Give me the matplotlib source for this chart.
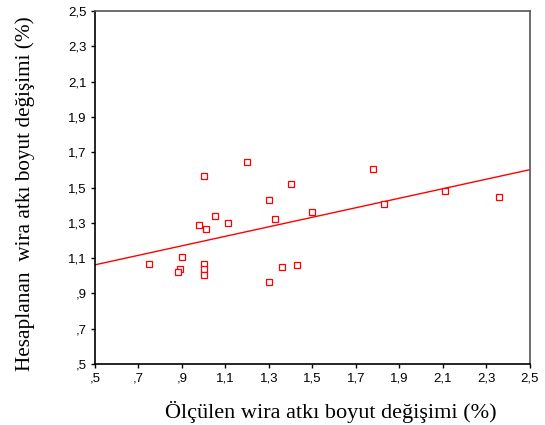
import matplotlib
matplotlib.use("Agg")
import matplotlib.pyplot as plt
import numpy as np

measured = [1.20, 1.00, 1.40, 1.30, 1.50, 1.05, 1.33, 1.11, 0.98, 1.01,
            0.90, 0.75, 1.00, 0.89, 1.00, 0.88, 1.00, 1.36, 1.43, 1.30,
            1.78, 1.83, 2.11, 2.36]
predicted = [1.643, 1.563, 1.521, 1.428, 1.361, 1.340, 1.321, 1.300, 1.289, 1.266,
             1.106, 1.066, 1.066, 1.041, 1.039, 1.020, 1.007, 1.049, 1.060, 0.967,
             1.603, 1.407, 1.481, 1.449]
fit_x = [0.5, 2.5]
fit_y = [1.062, 1.601]
ticks = [0.5, 0.7, 0.9, 1.1, 1.3, 1.5, 1.7, 1.9, 2.1, 2.3, 2.5]
tick_labels = [",5", ",7", ",9", "1,1", "1,3", "1,5", "1,7", "1,9", "2,1", "2,3", "2,5"]

fig = plt.figure(figsize=(5.45, 4.25), dpi=100)
ax = fig.add_axes([0.1743, 0.1435, 0.7977, 0.8305])

ax.plot(fit_x, fit_y, color="#ff0000", lw=1.0, zorder=2)
ax.plot(measured, predicted, linestyle="none", marker="s", markersize=4.2,
        markerfacecolor="white", markeredgecolor="#ff0000", markeredgewidth=0.9, zorder=3)

ax.set_xlim(0.5, 2.5)
ax.set_ylim(0.5, 2.5)
ax.set_xticks(ticks)
ax.set_xticklabels(tick_labels)
ax.set_yticks(ticks)
ax.set_yticklabels(tick_labels)
for lab in ax.get_xticklabels() + ax.get_yticklabels():
    lab.set_fontfamily("Liberation Sans")
    lab.set_fontsize(9.5)
ax.tick_params(direction="out", length=3, width=1, color="black", pad=3)
ax.tick_params(top=False, right=False)

for side in ["left", "bottom"]:
    ax.spines[side].set_color("black")
    ax.spines[side].set_linewidth(1.2)
for side in ["top", "right"]:
    ax.spines[side].set_color("#555555")
    ax.spines[side].set_linewidth(1.2)

ax.set_xlabel("Ölçülen wira atkı boyut değişimi (%)", fontfamily="Liberation Serif",
              fontsize=16, labelpad=12)
ax.xaxis.set_label_coords(0.543, -0.105)
ax.set_ylabel("Hesaplanan  wira atkı boyut değişimi (%)", fontfamily="Liberation Serif",
              fontsize=15.3)
ax.yaxis.set_label_coords(-0.138, 0.482)

fig.savefig("out.png", dpi=100)
